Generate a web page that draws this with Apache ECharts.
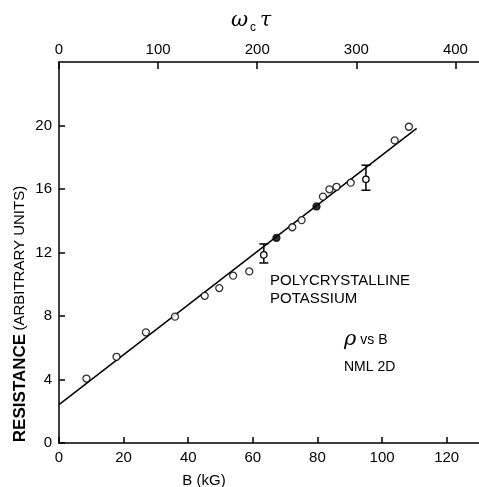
<!DOCTYPE html>
<html>
<head>
<meta charset="utf-8">
<script src="https://cdn.jsdelivr.net/npm/echarts@6/dist/echarts.min.js"></script>
<style>
html, body { margin: 0; padding: 0; background: #fff; }
#chart { width: 479px; height: 487px; }
</style>
</head>
<body>
<div id="chart"></div>
<script>
// 数据 (B in kG, resistance in arbitrary units)
var openB = [8.5, 17.8, 26.9, 35.9, 45.1, 49.6, 53.9, 58.9, 72.2, 75.1, 81.7, 83.7, 85.9, 90.3, 103.9, 108.3];
var openR = [4.06, 5.43, 6.97, 7.96, 9.27, 9.76, 10.54, 10.81, 13.59, 14.04, 15.52, 15.98, 16.14, 16.4, 19.06, 19.92];
var filledB = [67.3, 79.7];
var filledR = [12.92, 14.9];
var errB = [63.4, 95.0];
var errR = [11.85, 16.61];
var errLow = [11.34, 15.92];
var errHigh = [12.54, 17.5];
var fitB = [0, 110.7];
var fitR = [2.42, 19.82];
var bTicks = [0, 20, 40, 60, 80, 100, 120];
var wtTicks = [0, 100, 200, 300, 400];
var rTicks = [0, 4, 8, 12, 16, 20];
var bMax = 130;
var wtPerB = 3.26; // ω_c τ per kG

function pairs(xs, ys) {
	return xs.map(function(x, i) { return [x, ys[i]]; });
}

var font = 'Liberation Sans';
var axisBase = {
	type: 'value',
	splitLine: { show: false },
	axisLine: { show: true, onZero: false, lineStyle: { color: '#000', width: 1.5 } },
	axisTick: { show: true, inside: true, length: 6, lineStyle: { color: '#000', width: 1.5 } },
	axisLabel: { color: '#000', fontSize: 15, fontFamily: font }
};

function axis(extra, ticks) {
	var a = echarts.util.merge(echarts.util.clone(axisBase), extra, true);
	a.axisTick.customValues = ticks;
	a.axisLabel.customValues = ticks;
	return a;
}

var chart = echarts.init(document.getElementById('chart'));
var option = {
	animation: false,
	backgroundColor: '#fff',
	grid: { left: 59, right: 0, top: 62, bottom: 44, outerBoundsMode: 'none' },
	xAxis: [
		axis({ position: 'bottom', min: 0, max: bMax, axisLabel: { margin: 7 } }, bTicks),
		axis({ position: 'top', min: 0, max: bMax * wtPerB, axisTick: { length: 7 }, axisLabel: { margin: 5 } }, wtTicks)
	],
	yAxis: axis({ min: 0, max: 24, axisLabel: { margin: 7 } }, rTicks),
	series: [{
			type: 'line',
			data: pairs(fitB, fitR),
			symbol: 'none',
			lineStyle: { color: '#000', width: 1.5 },
			z: 1
		},
		{
			type: 'scatter',
			data: pairs(openB, openR),
			symbol: 'circle',
			symbolSize: 7,
			itemStyle: { color: '#fff', borderColor: '#000', borderWidth: 1.3 },
			z: 3
		},
		{
			type: 'scatter',
			data: pairs(filledB, filledR),
			symbol: 'circle',
			symbolSize: 7,
			itemStyle: { color: '#000', borderColor: '#000', borderWidth: 1.3 },
			z: 3
		},
		{
			type: 'custom',
			data: errB.map(function(b, i) { return [b, errR[i], errLow[i], errHigh[i]]; }),
			encode: { x: 0, y: [1, 2, 3] },
			z: 4,
			renderItem: function(params, api) {
				var p = api.coord([api.value(0), api.value(1)]);
				var lo = api.coord([api.value(0), api.value(2)]);
				var hi = api.coord([api.value(0), api.value(3)]);
				var w = 4.5;
				var st = { stroke: '#000', lineWidth: 1.5 };
				return {
					type: 'group',
					children: [
						{ type: 'line', shape: { x1: lo[0], y1: lo[1], x2: hi[0], y2: hi[1] }, style: st },
						{ type: 'line', shape: { x1: lo[0] - w, y1: lo[1], x2: lo[0] + w, y2: lo[1] }, style: st },
						{ type: 'line', shape: { x1: hi[0] - w, y1: hi[1], x2: hi[0] + w, y2: hi[1] }, style: st },
						{ type: 'circle', shape: { cx: p[0], cy: p[1], r: 3.2 }, style: { fill: '#fff', stroke: '#000', lineWidth: 1.3 } }
					]
				};
			}
		}
	],
	graphic: [{
			type: 'text', x: 251, y: 21,
			style: {
				text: '{w|ω}{c|c}{t|τ}',
				align: 'center', verticalAlign: 'middle',
				rich: {
					w: { fontFamily: 'DejaVu Serif', fontStyle: 'italic', fontSize: 21, fill: '#000' },
					c: { fontFamily: font, fontSize: 12, padding: [13, 4, 0, 2], fill: '#000' },
					t: { fontFamily: 'DejaVu Serif', fontStyle: 'italic', fontSize: 20, fill: '#000' }
				}
			}
		},
		{
			type: 'text', x: 204, y: 481,
			style: { text: 'B (kG)', fontFamily: font, fontSize: 15, fill: '#000', align: 'center', verticalAlign: 'middle' }
		},
		{
			type: 'text', x: 20, y: 314, rotation: Math.PI / 2,
			style: {
				text: '{b|RESISTANCE} {n|(ARBITRARY UNITS)}',
				align: 'center', verticalAlign: 'middle',
				rich: {
					b: { fontFamily: font, fontWeight: 'bold', fontSize: 17, fill: '#000' },
					n: { fontFamily: font, fontSize: 15, fill: '#000' }
				}
			}
		},
		{
			type: 'text', x: 270, y: 281,
			style: { text: 'POLYCRYSTALLINE', fontFamily: font, fontSize: 15, fill: '#000', verticalAlign: 'middle' }
		},
		{
			type: 'text', x: 270, y: 299,
			style: { text: 'POTASSIUM', fontFamily: font, fontSize: 15, fill: '#000', verticalAlign: 'middle' }
		},
		{
			type: 'text', x: 344, y: 340,
			style: {
				text: '{r|ρ} vs B',
				verticalAlign: 'middle', fontFamily: font, fontSize: 14, fill: '#000',
				rich: { r: { fontFamily: 'DejaVu Serif', fontStyle: 'italic', fontSize: 21, fill: '#000' } }
			}
		},
		{
			type: 'text', x: 344, y: 367,
			style: { text: 'NML 2D', fontFamily: font, fontSize: 14, fill: '#000', verticalAlign: 'middle' }
		}
	]
};

chart.setOption(option);
window.onresize = chart.resize;
</script>
</body>
</html>
